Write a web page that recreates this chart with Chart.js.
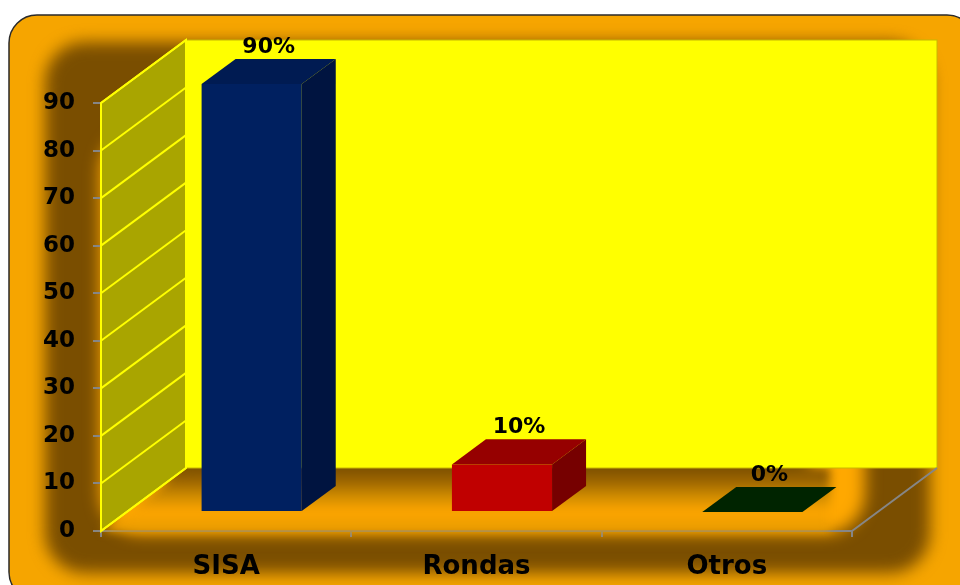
<!DOCTYPE html>
<html>
<head>
<meta charset="utf-8">
<script src="https://cdn.jsdelivr.net/npm/chart.js@4.4.1/dist/chart.umd.min.js"></script>
<style>
    html, body { margin: 0; padding: 0; background: #ffffff; }
    #wrap { width: 960px; height: 585px; }
</style>
</head>
<body>
<div id="wrap"><canvas id="chart" width="960" height="585"></canvas></div>
<script>
// Chart data
const categories = ['SISA', 'Rondas', 'Otros'];
const values = [90, 10, 0];
const valueLabels = ['90%', '10%', '0%'];
const yTicks = [0, 10, 20, 30, 40, 50, 60, 70, 80, 90];

// Face colours for each bar (front, top, right side)
const frontColors = ['#002060', '#C00000', '#003000'];
const topColors = ['#001B52', '#960000', '#002400'];
const sideColors = ['#001440', '#760000', '#001a00'];

// 3D depth of the walls, bars sit in the middle 40% of it
const depthX = 85;
const depthY = -63;

// Builds a rounded rectangle path
function roundRectPath(ctx, x, y, w, h, r) {
    ctx.beginPath();
    ctx.moveTo(x + r, y);
    ctx.lineTo(x + w - r, y);
    ctx.arcTo(x + w, y, x + w, y + r, r);
    ctx.lineTo(x + w, y + h - r);
    ctx.arcTo(x + w, y + h, x + w - r, y + h, r);
    ctx.lineTo(x + r, y + h);
    ctx.arcTo(x, y + h, x, y + h - r, r);
    ctx.lineTo(x, y + r);
    ctx.arcTo(x, y, x + r, y, r);
    ctx.closePath();
}

// Orange picture frame with soft bevel shading
function drawFrame(ctx) {
    ctx.save();
    roundRectPath(ctx, 9, 15, 966, 585, 28);
    ctx.clip();
    ctx.fillStyle = '#F6A500';
    ctx.fillRect(0, 0, 960, 585);

    ctx.filter = 'blur(8px)';
    ctx.fillStyle = '#7A4E00';
    roundRectPath(ctx, 45, 42, 885, 531, 40);
    ctx.fill();
    ctx.fillStyle = '#FFA800';
    roundRectPath(ctx, 100, 130, 765, 404, 40);
    ctx.fill();
    ctx.fillStyle = '#7E5200';
    roundRectPath(ctx, 160, 160, 652, 332, 30);
    ctx.fill();
    ctx.filter = 'none';
    ctx.restore();

    ctx.save();
    roundRectPath(ctx, 9, 15, 966, 585, 28);
    ctx.strokeStyle = '#2a2a2a';
    ctx.lineWidth = 1.5;
    ctx.stroke();
    ctx.restore();
}

// Back wall, side wall with its grid lines and floor edge
function drawWalls(chart) {
    let ctx = chart.ctx;
    let area = chart.chartArea;
    let yScale = chart.scales.y;

    ctx.save();

    // Floor, dark under the back wall and light towards the front
    let floorGrad = ctx.createLinearGradient(0, area.bottom + depthY, 0, area.bottom);
    floorGrad.addColorStop(0, '#7C5000');
    floorGrad.addColorStop(0.2, '#9A6400');
    floorGrad.addColorStop(0.45, '#D08C00');
    floorGrad.addColorStop(0.7, '#FFA600');
    floorGrad.addColorStop(1, '#E49A00');
    ctx.filter = 'blur(5px)';
    ctx.beginPath();
    ctx.moveTo(area.left, area.bottom);
    ctx.lineTo(area.left + depthX, area.bottom + depthY);
    ctx.lineTo(area.right - 22, area.bottom + depthY);
    ctx.lineTo(area.right - 22, area.bottom);
    ctx.closePath();
    ctx.fillStyle = floorGrad;
    ctx.fill();
    ctx.filter = 'none';

    // Back wall
    ctx.fillStyle = '#FFFF00';
    ctx.fillRect(area.left + depthX, area.top + depthY, area.right - area.left, area.bottom - area.top);
    ctx.strokeStyle = '#C8B800';
    ctx.lineWidth = 1;
    ctx.strokeRect(area.left + depthX, area.top + depthY, area.right - area.left, area.bottom - area.top);

    // Side wall
    ctx.beginPath();
    ctx.moveTo(area.left, area.bottom);
    ctx.lineTo(area.left, area.top);
    ctx.lineTo(area.left + depthX, area.top + depthY);
    ctx.lineTo(area.left + depthX, area.bottom + depthY);
    ctx.closePath();
    ctx.fillStyle = '#A9A500';
    ctx.fill();
    ctx.strokeStyle = '#FFFF00';
    ctx.lineWidth = 2;
    ctx.stroke();

    // Diagonal grid lines on the side wall
    for (let i = 0; i < yTicks.length; i++) {
        let py = yScale.getPixelForValue(yTicks[i]);
        ctx.beginPath();
        ctx.moveTo(area.left, py);
        ctx.lineTo(area.left + depthX, py + depthY);
        ctx.stroke();
    }

    // Right edge of the floor
    ctx.beginPath();
    ctx.moveTo(area.right, area.bottom);
    ctx.lineTo(area.right + depthX, area.bottom + depthY);
    ctx.strokeStyle = '#868686';
    ctx.lineWidth = 2;
    ctx.stroke();
    ctx.restore();
}

const box3d = {
    id: 'box3d',
    beforeDraw(chart) {
        drawFrame(chart.ctx);
    },
    beforeDatasetsDraw(chart) {
        drawWalls(chart);
        // Front faces are drawn by Chart.js, moved into the middle of the depth
        chart.ctx.save();
        chart.ctx.translate(depthX * 0.3, depthY * 0.3);
    },
    afterDatasetsDraw(chart) {
        let ctx = chart.ctx;
        ctx.restore();

        let meta = chart.getDatasetMeta(0);
        let fx = depthX * 0.3;
        let fy = depthY * 0.3;
        let dx = depthX * 0.4;
        let dy = depthY * 0.4;

        for (let i = 0; i < meta.data.length; i++) {
            let p = meta.data[i].getProps(['x', 'y', 'base', 'width'], true);
            let left = p.x - p.width / 2 + fx;
            let right = p.x + p.width / 2 + fx;
            let top = p.y + fy;
            let bottom = p.base + fy;

            // Top face
            ctx.beginPath();
            ctx.moveTo(left, top);
            ctx.lineTo(left + dx, top + dy);
            ctx.lineTo(right + dx, top + dy);
            ctx.lineTo(right, top);
            ctx.closePath();
            ctx.fillStyle = topColors[i];
            ctx.fill();

            // Right side face
            if (bottom - top > 0.5) {
                ctx.beginPath();
                ctx.moveTo(right, top);
                ctx.lineTo(right + dx, top + dy);
                ctx.lineTo(right + dx, bottom + dy);
                ctx.lineTo(right, bottom);
                ctx.closePath();
                ctx.fillStyle = sideColors[i];
                ctx.fill();
            }

            // Value label above the box
            ctx.fillStyle = '#000000';
            ctx.font = 'bold 22px "DejaVu Sans"';
            ctx.textAlign = 'center';
            ctx.textBaseline = 'alphabetic';
            ctx.fillText(valueLabels[i], p.x + fx + dx / 2, top + dy - 6);
        }
    }
};

// Builds the bar chart on the canvas
let ctx = document.getElementById('chart').getContext('2d');
let myChart = new Chart(ctx, {
    type: 'bar',
    data: {
        labels: categories,
        datasets: [{
            data: values,
            backgroundColor: frontColors,
            borderWidth: 0,
            categoryPercentage: 0.8,
            barPercentage: 0.5,
            clip: false
        }]
    },
    options: {
        responsive: false,
        animation: false,
        layout: { padding: { top: 103, left: 0, right: 108, bottom: 0 } },
        plugins: {
            legend: { display: false },
            tooltip: { enabled: false }
        },
        scales: {
            x: {
                afterFit: function (scale) { scale.height = 54; },
                grid: {
                    offset: true,
                    drawOnChartArea: false,
                    drawTicks: true,
                    tickLength: 6,
                    color: '#868686',
                    lineWidth: 2
                },
                border: { color: '#868686', width: 2 },
                ticks: {
                    color: '#000000',
                    padding: 15,
                    font: { family: 'DejaVu Sans', size: 26, weight: 'bold' }
                }
            },
            y: {
                min: 0,
                max: 90,
                afterFit: function (scale) { scale.width = 101; },
                afterBuildTicks: function (scale) {
                    scale.ticks = yTicks.map(function (v) { return { value: v }; });
                },
                grid: {
                    drawOnChartArea: false,
                    drawTicks: true,
                    tickLength: 8,
                    color: '#868686',
                    lineWidth: 2
                },
                border: { color: '#868686', width: 2 },
                ticks: {
                    color: '#000000',
                    padding: 18,
                    font: { family: 'DejaVu Sans', size: 23, weight: 'bold' }
                }
            }
        }
    },
    plugins: [box3d]
});
</script>
</body>
</html>
